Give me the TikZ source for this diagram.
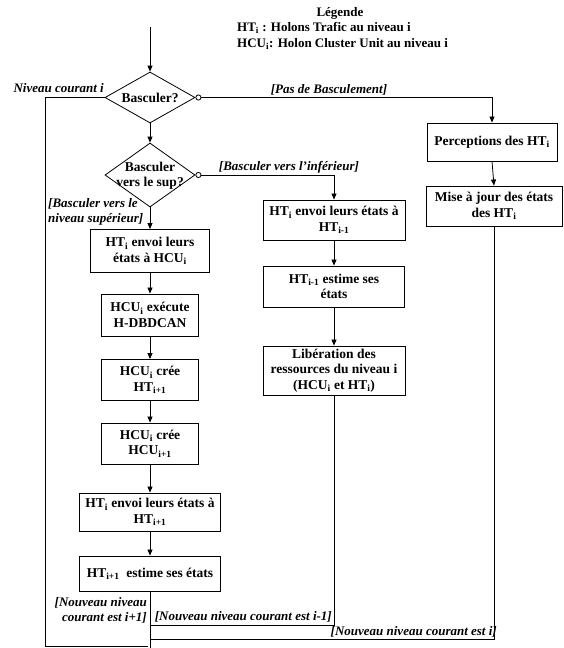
\documentclass[tikz,border=0pt]{standalone}
\usepackage{fontspec}
\setmainfont{Liberation Serif}
\usetikzlibrary{arrows.meta,shapes.geometric}
\begin{document}
\begin{tikzpicture}[x=1pt,y=-1pt,
  every node/.style={font=\fontsize{13.5}{15.5}\selectfont\bfseries},
  legtxt/.style={font=\fontsize{13}{15}\selectfont\bfseries, inner sep=0pt},
  box/.style={draw, line width=0.9pt, align=center, inner sep=1pt},
  lbl/.style={font=\fontsize{13}{15}\selectfont\bfseries\itshape, inner sep=0pt},
  arr/.style={line width=0.8pt, -{Triangle[length=6pt,width=5pt]}},
  ln/.style={line width=0.8pt},
  circarr/.style={line width=0.8pt, {Circle[open,length=6pt,width=6pt]}-{Triangle[length=6pt,width=5pt]}},
  dia/.style={draw, diamond, line width=0.8pt, inner sep=0pt}]
\path[use as bounding box] (0,0) rectangle (564,648);

% legend
\node[legtxt] (leg) at (340,13) {Légende};
\node[legtxt, anchor=west] (leg1) at (237,28) {HT\textsubscript{i} : Holons Trafic au niveau i};
\node[legtxt, anchor=west] (leg2) at (237,44) {HCU\textsubscript{i}: Holon Cluster Unit au niveau i};

% diamonds
\coordinate (start) at (150,27);
\node[dia, minimum width=90, minimum height=51] (d1) at (150,97.5) {};
\node[inner sep=0pt] (d1t) at (d1.center) {Basculer?};
\node[dia, minimum width=90, minimum height=64] (d2) at (150,175) {};
\node[align=center, inner sep=0pt] (d2t) at (150,176) {Basculer\\vers le sup?};

% left column
\node[box, minimum width=119, minimum height=43] (b1) at (150,251) {HT\textsubscript{i} envoi leurs\\états à HCU\textsubscript{i}};
\node[box, minimum width=97, minimum height=42] (b2) at (150,315) {HCU\textsubscript{i} exécute\\H-DBDCAN};
\node[box, minimum width=97, minimum height=41] (b3) at (150,380) {HCU\textsubscript{i} crée\\HT\textsubscript{i+1}};
\node[box, minimum width=97, minimum height=41] (b4) at (150,443.5) {HCU\textsubscript{i} crée\\HCU\textsubscript{i+1}};
\node[box, minimum width=141, minimum height=38] (b5) at (150,512) {HT\textsubscript{i} envoi leurs états à\\HT\textsubscript{i+1}};
\node[box, minimum width=141, minimum height=35] (b6) at (150,573.5) {HT\textsubscript{i+1}\ \ estime ses états};

% middle column
\node[box, minimum width=142, minimum height=40] (m1) at (334,220) {HT\textsubscript{i} envoi leurs états à\\HT\textsubscript{i-1}};
\node[box, minimum width=141, minimum height=41] (m2) at (334,286.5) {HT\textsubscript{i-1} estime ses\\états};
\node[box, minimum width=142, minimum height=49] (m3) at (334,370.5) {Libération des\\ressources du niveau i\\(HCU\textsubscript{i} et HT\textsubscript{i})};

% right column
\node[box, minimum width=130, minimum height=38] (r1) at (492,142) {Perceptions des HT\textsubscript{i}};
\node[box, minimum width=136, minimum height=40] (r2) at (494,206) {Mise à jour des états\\des HT\textsubscript{i}};

% labels
\node[lbl, anchor=east] (lnc) at (104,88) {Niveau courant i};
\node[lbl] (lpas) at (329,90) {[Pas de Basculement]};
\node[lbl] (linf) at (289,167) {[Basculer vers l’inférieur]};
\node[lbl, anchor=west, align=left] (lsup) at (48,212) {[Basculer vers le\\niveau supérieur]};
\node[lbl, anchor=east, align=right] (lip) at (147,610) {[Nouveau niveau\\courant est i+1]};
\node[lbl, anchor=east] (lim) at (332,617) {[Nouveau niveau courant est i-1]};
\node[lbl, anchor=east] (li) at (497,632) {[Nouveau niveau courant est i]};

% coordinates
\coordinate (j1) at (150,625);
\coordinate (j2) at (150,639);
\coordinate (exit) at (150,648);
\coordinate (loopend) at (148,646);

% connectors
\draw[arr] (start) -- (d1.north);
\draw[arr] (d1.south) -- (d2.north);
\draw[circarr] (d1.east) -| (r1.north);
\draw[arr] (r1.south) -- (r2.north);
\draw[circarr] (d2.east) -| (m1.north);
\draw[arr] (d2.south) -- (b1.north);
\draw[arr] (b1.south) -- (b2.north);
\draw[arr] (b2.south) -- (b3.north);
\draw[arr] (b3.south) -- (b4.north);
\draw[arr] (b4.south) -- (b5.north);
\draw[arr] (b5.south) -- (b6.north);
\draw[arr] (m1.south) -- (m2.north);
\draw[arr] (m2.south) -- (m3.north);
\draw[ln] (b6.south) -- (exit);
\draw[ln] (m3.south) |- (j1);
\draw[ln] (r2.south) |- (j2);
\draw[ln] (d1.west) -- (45,97.5) -- (45,646) -- (loopend);
\end{tikzpicture}
\end{document}
